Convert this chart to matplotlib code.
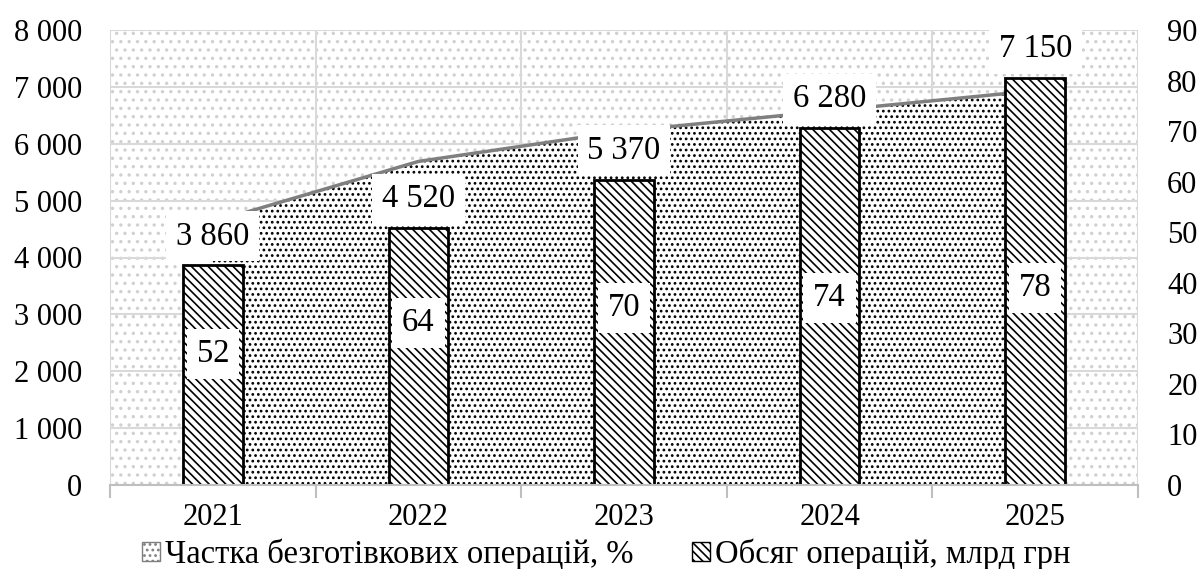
import matplotlib
matplotlib.use('Agg')
import matplotlib.pyplot as plt
import numpy as np
from matplotlib.patches import Patch

# data
years = ['2021', '2022', '2023', '2024', '2025']
volume = [3860, 4520, 5370, 6280, 7150]      # Обсяг операцій, млрд грн (left axis)
share = [52, 64, 70, 74, 78]                 # Частка безготівкових операцій, % (right axis)
left_ticks = list(range(0, 8001, 1000))
right_ticks = list(range(0, 91, 10))

label_share = 'Частка безготівкових операцій, %'
label_volume = 'Обсяг операцій, млрд грн'

plt.rcParams['font.family'] = ['Liberation Serif', 'DejaVu Serif']
plt.rcParams['font.size'] = 22
plt.rcParams['hatch.linewidth'] = 1.2

BACK = chr(92)  # backslash for the bar hatch
bar_hatch = BACK * 4


def fmt_thousands(v):
    return f'{v:,}'.replace(',', ' ')


fig = plt.figure(figsize=(12.01, 5.69), dpi=100)
ax = fig.add_axes([110 / 1201, 84 / 569, 1028 / 1201, 455 / 569])
ax2 = ax.twinx()

x = np.arange(len(years))

# light dotted background of the plot area
ax.patch.set_facecolor('white')
ax.patch.set_edgecolor('#d0d0d0')
ax.patch.set_hatch('..')
ax.patch.set_linewidth(0)

ax.set_xlim(-0.5, len(years) - 0.5)
ax.set_ylim(0, 8000)
ax2.set_ylim(0, 90)

# gridlines below everything else
ax.set_axisbelow(True)
ax.set_xticks(x)
ax.set_xticks(np.arange(-0.5, len(years), 1.0), minor=True)
ax.set_xticklabels(years)
ax.grid(which='major', axis='y', color='#d9d9d9', linewidth=1.5, zorder=0.5)
ax.grid(which='minor', axis='x', color='#d9d9d9', linewidth=1.5, zorder=0.5)
ax.grid(which='major', axis='x', visible=False)

# area of the share, drawn on the left axes but scaled by the right axis
ax.fill_between(x, 0, share, facecolor='white', edgecolor='black', hatch='...',
                linewidth=0, transform=ax2.transData, zorder=1)
ax.plot(x, share, color='#7f7f7f', linewidth=2.5, transform=ax2.transData, zorder=1.1)

# bars of the volume
ax.bar(x, volume, width=0.29, facecolor='white', edgecolor='black', hatch=bar_hatch,
       linewidth=2, zorder=2)

box = dict(boxstyle='square,pad=0.3', facecolor='white', edgecolor='none')
for xi, v in zip(x, volume):
    ax.annotate(fmt_thousands(v), xy=(xi, v), xytext=(0, 21), textcoords='offset points',
                ha='center', va='center', fontsize=23.5, bbox=box, zorder=3)
for xi, s in zip(x, share):
    ax.text(xi, s / 2, str(s), ha='center', va='center', fontsize=23.5, bbox=box,
            transform=ax2.transData, zorder=3)

# axes styling
ax.set_yticks(left_ticks)
ax.set_yticklabels([fmt_thousands(t) for t in left_ticks])
ax2.set_yticks(right_ticks)
ax.tick_params(axis='y', length=0, pad=20)
ax2.tick_params(axis='y', length=0, pad=21)
ax.tick_params(axis='x', which='major', length=0, pad=13)
ax.tick_params(axis='x', which='minor', length=9, width=1.5, color='#bfbfbf', direction='out')
for side in ['top', 'left', 'right']:
    ax.spines[side].set_visible(False)
for side in ['top', 'left', 'right', 'bottom']:
    ax2.spines[side].set_visible(False)
ax.spines['bottom'].set_color('#bfbfbf')
ax.spines['bottom'].set_linewidth(1.5)

handles = [
    Patch(facecolor='white', edgecolor='#7f7f7f', hatch='...', linewidth=1),
    Patch(facecolor='white', edgecolor='black', hatch=bar_hatch, linewidth=1),
]
fig.legend(handles, [label_share, label_volume], loc='center', bbox_to_anchor=(0.505, 0.026),
           ncol=2, frameon=False, fontsize=23.5, handlelength=0.55, handleheight=0.55,
           handletextpad=0.15, columnspacing=1.8, borderpad=0)

plt.savefig('out.png', dpi=100)
